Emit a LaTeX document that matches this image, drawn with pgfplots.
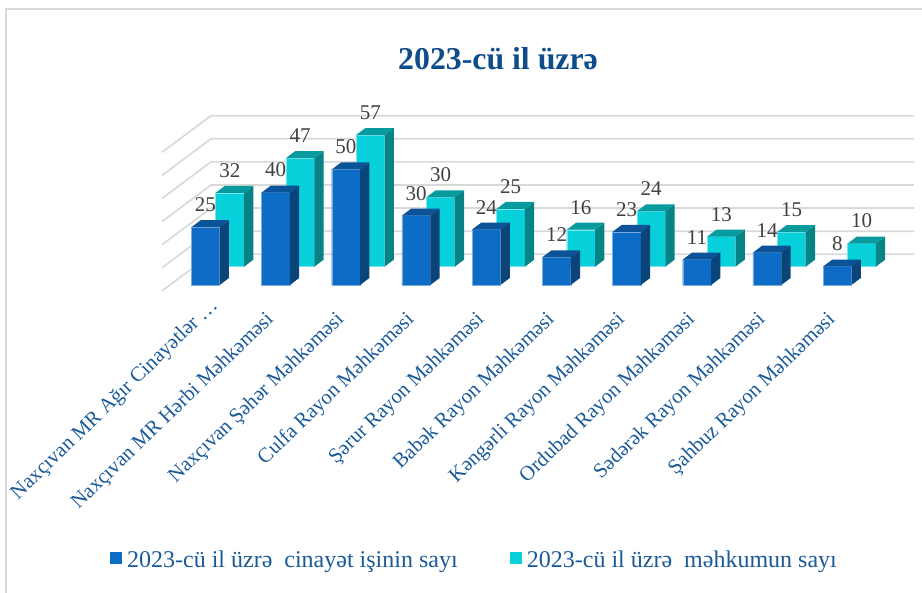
\documentclass[border=0pt]{standalone}
\usepackage{fontspec}
\setmainfont{Liberation Serif}
\usepackage{pgfplots}
\usepackage{pgfplotstable}
\pgfplotsset{compat=1.18}

\definecolor{bluefront}{HTML}{0D6CC6}
\definecolor{blueside}{HTML}{0A4478}
\definecolor{bluetop}{HTML}{0A5399}
\definecolor{cyanfront}{HTML}{08D0DA}
\definecolor{cyanside}{HTML}{078285}
\definecolor{cyantop}{HTML}{079A9E}
\definecolor{gridgray}{HTML}{D9D9D9}
\definecolor{labelblue}{HTML}{1B5A98}
\definecolor{titleblue}{HTML}{0F4C8A}
\definecolor{numgray}{HTML}{404040}

\pgfplotstableread{
idx cases convicted
0 25 32
1 40 47
2 50 57
3 30 30
4 24 25
5 12 16
6 23 24
7 11 13
8 14 15
9 8 10
}\courts

% side and top faces of a bar, drawn from the top front centre of the bar
\pgfplotsset{
    cube faces/.style n args={2}{
        only marks, scatter, mark=*, mark size=0pt, draw=none, forget plot,
        visualization depends on={2.31*\thisrow{#1}\as\barh},
        scatter/@pre marker code/.code={%
            \scope
            \fill[#2side] (14.2pt,0pt) -- (23.5pt,7pt) -- (23.5pt,7pt-\barh pt) -- (14.2pt,-\barh pt) -- cycle;
            \fill[#2top] (-14.2pt,0pt) -- (-4.9pt,7pt) -- (23.5pt,7pt) -- (14.2pt,0pt) -- cycle;
        },
        scatter/@post marker code/.code={\endscope},
    },
    front bar/.style={
        ybar, bar width=28.4pt, bar shift=0pt, fill=#1front, draw=#1front!55!white, line width=0.4pt,
        forget plot,
        nodes near coords,
        every node near coord/.style={anchor=center, yshift=22.5pt, text=numgray,
            font=\fontsize{21}{21}\selectfont},
    },
}

\begin{document}
\begin{tikzpicture}
\useasboundingbox (0pt,0pt) rectangle (922pt,593pt);
% outer frame of the chart area
\draw[gridgray, line width=1.5pt] (6pt,0pt) -- (6pt,584pt) -- (922pt,584pt);
\node[font=\bfseries\fontsize{31.8}{32}\selectfont, text=titleblue] at (498pt,534pt) {2023-cü il üzrə};
\begin{axis}[
    at={(205.5pt,338.7pt)}, anchor=origin,
    scale only axis,
    x=70.2pt, y=2.31pt,
    xmin=-0.62, xmax=10.09,
    ymin=-16, ymax=60.5,
    clip=false,
    axis line style={draw=none},
    tick style={draw=none},
    xtick={0,...,9},
    xticklabels={Naxçıvan MR Ağır Cinayətlər …\kern-20pt, Naxçıvan MR Hərbi Məhkəməsi, Naxçıvan Şəhər Məhkəməsi,
        Culfa Rayon Məhkəməsi, Şərur Rayon Məhkəməsi, Babək Rayon Məhkəməsi, Kəngərli Rayon Məhkəməsi,
        Ordubad Rayon Məhkəməsi, Sədərək Rayon Məhkəməsi, Şahbuz Rayon Məhkəməsi},
    xticklabel style={rotate=44, anchor=east, xshift=-17.8pt, yshift=-15.1pt, text=labelblue,
        font=\fontsize{20.8}{21}\selectfont},
    ytick=\empty,
    /pgf/number format/assume math mode=true,
    legend columns=2,
    legend style={at={(axis cs:-1.40,-132.2)}, anchor=west, draw=none, fill=none,
        font=\fontsize{24}{24}\selectfont, text=labelblue,
        /tikz/every even column/.append style={column sep=50.5pt}},
    legend cell align=left,
    legend image code/.code={\fill[draw=none,#1] (0pt,-4.5pt) rectangle (12pt,7.5pt); \path (14.5pt,0pt);},
]
% back wall and floor lines
\pgfplotsinvokeforeach{0,10,20,30,40,50,60}{
    \draw[gridgray, line width=1.7pt] (axis cs:-0.62,#1-15.84) -- (axis cs:0.0783,#1) -- (axis cs:10.09,#1);
}
% rear row
\addplot[cube faces={convicted}{cyan}, xshift=24.4pt, yshift=-12.4pt] table[x=idx,y=convicted] {\courts};
\addplot[front bar=cyan, xshift=24.4pt, yshift=-12.4pt] table[x=idx,y=convicted] {\courts};
% front row
\addplot[cube faces={cases}{blue}, yshift=-30.7pt] table[x=idx,y=cases] {\courts};
\addplot[front bar=blue, yshift=-30.7pt] table[x=idx,y=cases] {\courts};
\addlegendimage{fill=bluefront}
\addlegendentry{2023-cü il üzrə\ \ cinayət işinin sayı}
\addlegendimage{fill=cyanfront}
\addlegendentry{2023-cü il üzrə\ \ məhkumun sayı}
\end{axis}
\end{tikzpicture}
\end{document}
